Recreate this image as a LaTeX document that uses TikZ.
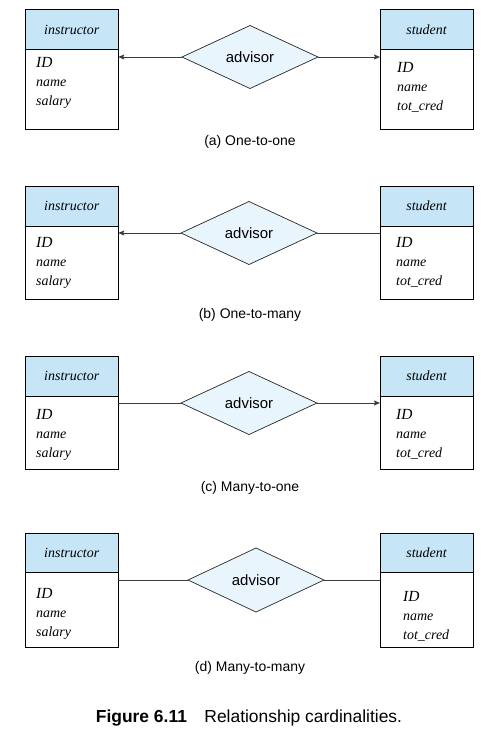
\documentclass[tikz,border=0pt]{standalone}
\usepackage{fontspec}
\setmainfont{Liberation Serif}
\setsansfont{Liberation Sans}
\usetikzlibrary{shapes.geometric,arrows.meta,positioning}
\definecolor{headblue}{RGB}{198,230,248}
\definecolor{relblue}{RGB}{233,245,253}
\definecolor{edgegray}{RGB}{60,60,60}

\begin{document}
\begin{tikzpicture}[
        x=1bp, y=-1bp,
        header/.style={
            rectangle,
            draw=black,
            line width=0.9bp,
            outer sep=0pt,
            fill=headblue,
            minimum width=93bp,
            minimum height=40bp,
            inner sep=0pt,
            font=\fontsize{14}{16}\selectfont\itshape
        },
        body/.style={
            rectangle,
            draw=black,
            line width=0.9bp,
            outer sep=0pt,
            fill=white,
            minimum width=93bp,
            inner sep=0pt,
            anchor=north
        },
        attrs/.style={
            anchor=north west,
            align=left,
            inner sep=0pt,
            font=\fontsize{14}{19}\selectfont\itshape
        },
        relation/.style={
            diamond,
            draw=black!85,
            line width=0.7bp,
            outer sep=0pt,
            fill=relblue,
            minimum width=136bp,
            minimum height=63bp,
            inner sep=0pt,
            font=\sffamily\fontsize{15}{17}\selectfont
        },
        caption/.style={
            font=\sffamily\fontsize{14}{16}\selectfont
        },
        conn/.style={
            line width=0.8bp,
            draw=edgegray
        },
        tip/.style={
            conn,
            -{Stealth[length=6bp,width=5bp,inset=1bp]}
        }
    ]
    \useasboundingbox (0,0) rectangle (501,745);

    % (a) One-to-one
    \node[header] (insheadA) at (71.75,29.75) {instructor};
    \node[body, minimum height=80bp] (insbodyA) at (insheadA.south) {};
    \node[attrs] (insattrA) at (36,57) {{\fontsize{15.5}{19}\selectfont ID}\\name\\salary};
    \node[header] (stuheadA) at (426.5,29.75) {student};
    \node[body, minimum height=80bp] (stubodyA) at (stuheadA.south) {};
    \node[attrs] (stuattrA) at (397,62) {{\fontsize{15.5}{19}\selectfont ID}\\name\\tot\_cred};
    \node[relation] (relA) at (250,57) {advisor};
    \node[caption] (capA) at (250,142) {(a) One-to-one};
    \draw[tip] (relA.west) -- (relA.west -| insbodyA.east);
    \draw[tip] (relA.east) -- (relA.east -| stubodyA.west);

    % (b) One-to-many
    \node[header] (insheadB) at (71.75,206) {instructor};
    \node[body, minimum height=73bp] (insbodyB) at (insheadB.south) {};
    \node[attrs] (insattrB) at (36,237) {{\fontsize{15.5}{19}\selectfont ID}\\name\\salary};
    \node[header] (stuheadB) at (426.5,206) {student};
    \node[body, minimum height=73bp] (stubodyB) at (stuheadB.south) {};
    \node[attrs] (stuattrB) at (396,237) {{\fontsize{15.5}{19}\selectfont ID}\\name\\tot\_cred};
    \node[relation] (relB) at (249,233) {advisor};
    \node[caption] (capB) at (250,315) {(b) One-to-many};
    \draw[tip] (relB.west) -- (relB.west -| insbodyB.east);
    \draw[conn] (relB.east) -- (relB.east -| stubodyB.west);

    % (c) Many-to-one
    \node[header] (insheadC) at (71.75,376) {instructor};
    \node[body, minimum height=73bp] (insbodyC) at (insheadC.south) {};
    \node[attrs] (insattrC) at (36,409) {{\fontsize{15.5}{19}\selectfont ID}\\name\\salary};
    \node[header] (stuheadC) at (426.5,376) {student};
    \node[body, minimum height=73bp] (stubodyC) at (stuheadC.south) {};
    \node[attrs] (stuattrC) at (396,409) {{\fontsize{15.5}{19}\selectfont ID}\\name\\tot\_cred};
    \node[relation] (relC) at (249,403) {advisor};
    \node[caption] (capC) at (250,488) {(c) Many-to-one};
    \draw[conn] (relC.west) -- (relC.west -| insbodyC.east);
    \draw[tip] (relC.east) -- (relC.east -| stubodyC.west);

    % (d) Many-to-many
    \node[header, minimum height=39bp] (insheadD) at (71.75,552.5) {instructor};
    \node[body, minimum height=75bp] (insbodyD) at (insheadD.south) {};
    \node[attrs] (insattrD) at (36,588) {{\fontsize{15.5}{19}\selectfont ID}\\name\\salary};
    \node[header, minimum height=39bp] (stuheadD) at (426.5,552.5) {student};
    \node[body, minimum height=75bp] (stubodyD) at (stuheadD.south) {};
    \node[attrs] (stuattrD) at (403,591) {{\fontsize{15.5}{19}\selectfont ID}\\name\\tot\_cred};
    \node[relation, minimum height=64bp] (relD) at (256,580) {advisor};
    \node[caption] (capD) at (250,668) {(d) Many-to-many};
    \draw[conn] (relD.west) -- (relD.west -| insbodyD.east);
    \draw[conn] (relD.east) -- (relD.east -| stubodyD.west);

    % figure caption
    \node[font=\sffamily\fontsize{17.5}{20}\selectfont] (figcap) at (249,718) {\textbf{Figure 6.11}\quad Relationship cardinalities.};
\end{tikzpicture}
\end{document}
